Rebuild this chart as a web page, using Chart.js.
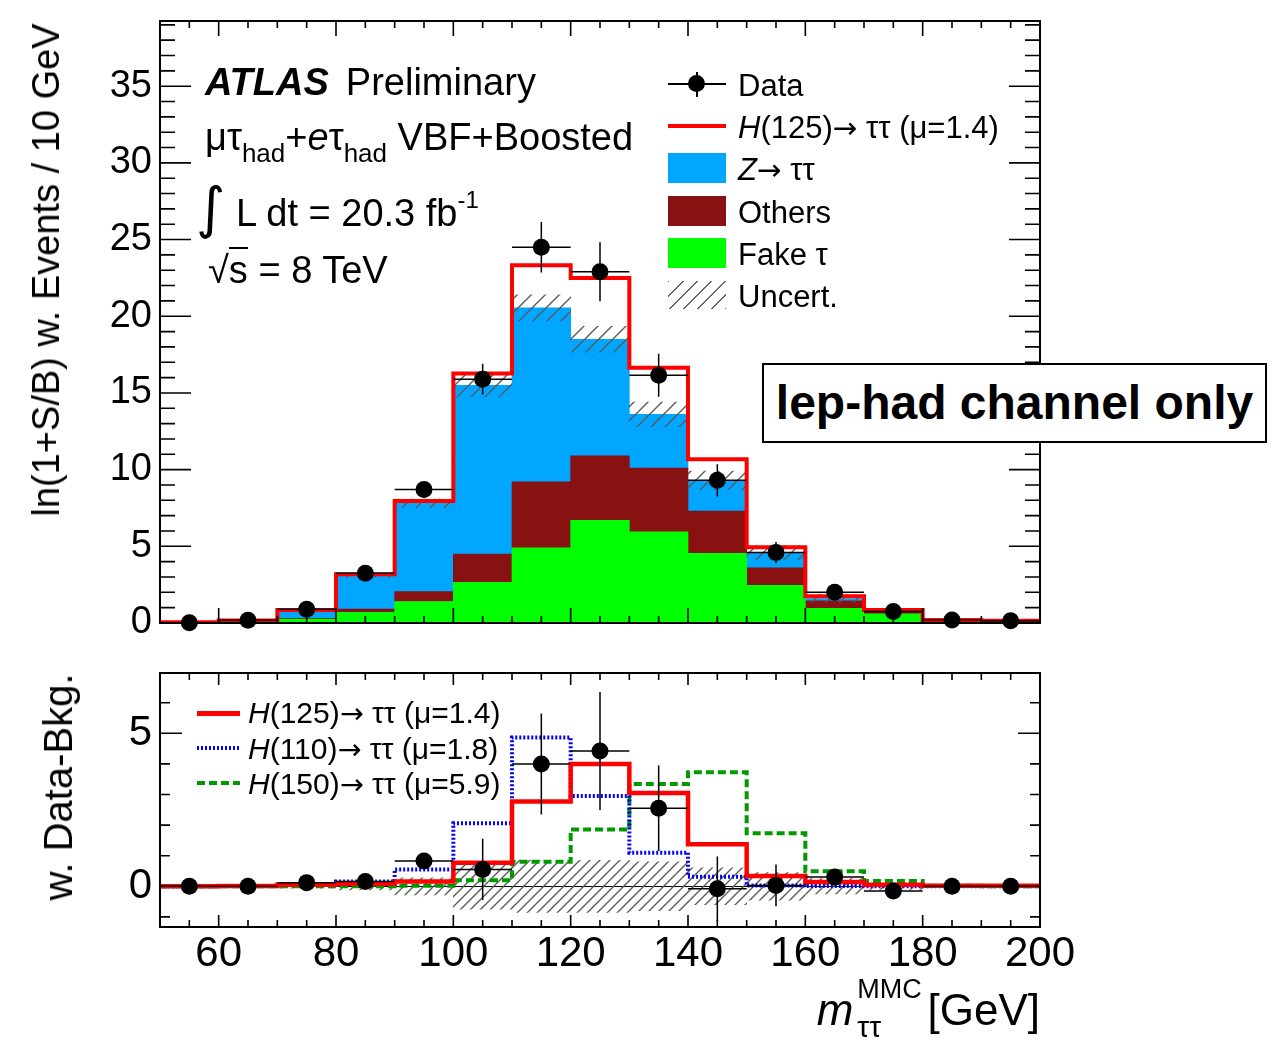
<!DOCTYPE html>
<html>
<head>
<meta charset="utf-8">
<title>m_tautau MMC, lep-had</title>
<script src="https://cdn.jsdelivr.net/npm/chart.js@4.4.1/dist/chart.umd.min.js"></script>
<style>
  body { margin: 0; background: #fff; }
  #page { position: relative; width: 1278px; height: 1041px; overflow: hidden; background: #fff; }
  canvas { position: absolute; left: 0; }
  .t { position: absolute; white-space: nowrap; line-height: 1; color: #000; font-family: "Liberation Sans", Arial, sans-serif; }
  .sym { position: absolute; }
  .hatch { background: repeating-linear-gradient(135deg, #666 0 1.4px, transparent 1.4px 10px); }
  .sub { font-size: 26px; vertical-align: -12px; }
  .ar { font-family: "DejaVu Sans", sans-serif; font-size: 0.95em; }
</style>
</head>
<body>
<div id="page">
  <canvas id="top" width="1278" height="650" style="top:0"></canvas>
  <canvas id="bottom" width="1278" height="391" style="top:650px"></canvas>

  <!-- labels, upper pad -->
  <div class="t" style="left:205px;top:63px;font-size:38px"><b><i>ATLAS</i></b><span style="margin-left:17px">Preliminary</span></div>
  <div class="t" style="left:205px;top:118px;font-size:38px">μτ<span class="sub">had</span>+<i>e</i>τ<span class="sub">had</span> VBF+Boosted</div>
  <div class="t" style="left:196px;top:180px;font-size:56px;font-family:'DejaVu Sans'">∫</div>
  <div class="t" style="left:236px;top:188px;font-size:38px">L dt = 20.3 fb<span style="font-size:24px;vertical-align:18px">-1</span></div>
  <div class="t" style="left:208px;top:251px;font-size:38px">√<span style="border-top:2px solid #000">s</span> = 8 TeV</div>

  <!-- legend, upper pad -->
  <div class="sym" style="left:668px;top:83px;width:58px;height:1.5px;background:#000"></div>
  <div class="sym" style="left:696px;top:72px;width:1.5px;height:25px;background:#000"></div>
  <div class="sym" style="left:688px;top:75px;width:17px;height:17px;border-radius:50%;background:#000"></div>
  <div class="sym" style="left:668px;top:124px;width:58px;height:4px;background:#ff0000"></div>
  <div class="sym" style="left:668px;top:153px;width:58px;height:30px;background:#00a6ff"></div>
  <div class="sym" style="left:668px;top:196px;width:58px;height:30px;background:#881111"></div>
  <div class="sym" style="left:668px;top:238px;width:58px;height:30px;background:#00ff00"></div>
  <div class="sym hatch" style="left:668px;top:281px;width:58px;height:28px"></div>
  <div class="t" style="left:738px;top:70px;font-size:31px">Data</div>
  <div class="t" style="left:738px;top:112px;font-size:31px"><i>H</i>(125)<span class="ar">→</span> ττ (μ=1.4)</div>
  <div class="t" style="left:738px;top:154px;font-size:31px"><i>Z</i><span class="ar">→</span> ττ</div>
  <div class="t" style="left:738px;top:197px;font-size:31px">Others</div>
  <div class="t" style="left:738px;top:239px;font-size:31px">Fake τ</div>
  <div class="t" style="left:738px;top:281px;font-size:31px">Uncert.</div>

  <div class="t" style="left:762px;top:363px;width:505px;height:80px;box-sizing:border-box;border:2px solid #000;background:#fff;font-size:48px;font-weight:bold;display:flex;align-items:center;justify-content:center">lep-had channel only</div>

  <!-- legend, lower pad -->
  <div class="sym" style="left:197px;top:711px;width:43px;height:4.5px;background:#ff0000"></div>
  <div class="sym" style="left:197px;top:746px;width:43px;height:4px;background:repeating-linear-gradient(90deg,#0000ff 0 2px,transparent 2px 4px)"></div>
  <div class="sym" style="left:197px;top:781px;width:43px;height:4px;background:repeating-linear-gradient(90deg,#009a00 0 8px,transparent 8px 12px)"></div>
  <div class="t" style="left:248px;top:698px;font-size:30px"><i>H</i>(125)<span class="ar">→</span> ττ (μ=1.4)</div>
  <div class="t" style="left:248px;top:734px;font-size:30px"><i>H</i>(110)<span class="ar">→</span> ττ (μ=1.8)</div>
  <div class="t" style="left:248px;top:769px;font-size:30px"><i>H</i>(150)<span class="ar">→</span> ττ (μ=5.9)</div>

  <!-- axis titles -->
  <div class="t" style="left:46px;top:270px;font-size:38px;transform:translate(-50%,-50%) rotate(-90deg)">ln(1+S/B) w. Events / 10 GeV</div>
  <div class="t" style="left:58px;top:787px;font-size:40px;transform:translate(-50%,-50%) rotate(-90deg)">w. Data-Bkg.</div>
  <div class="t" style="right:238px;top:988px;font-size:44px"><i>m</i><span style="display:inline-block;position:relative;width:62px;height:1px"><span class="t" style="left:4px;bottom:22px;font-size:27px">MMC</span><span class="t" style="left:4px;bottom:-17px;font-size:30px">ττ</span></span> [GeV]</div>
</div>

<script>
// bins of m_tautau^MMC [GeV]
const binEdges   = [50, 60, 70, 80, 90, 100, 110, 120, 130, 140, 150, 160, 170, 180, 190, 200];
const binCenters = [55, 65, 75, 85, 95, 105, 115, 125, 135, 145, 155, 165, 175, 185, 195];

// upper pad: ln(1+S/B) weighted events / 10 GeV
const fakeTau = [0.02, 0.05, 0.25, 0.7, 1.4, 2.65, 4.9, 6.7, 5.95, 4.55, 2.45, 0.95, 0.6, 0.1, 0.05];
const others  = [0.01, 0.03, 0.05, 0.2, 0.65, 1.85, 4.3, 4.2, 4.15, 2.75, 1.15, 0.5, 0.15, 0.02, 0.02];
const zTauTau = [0.02, 0.07, 0.5, 2.2, 5.75, 11.0, 11.35, 7.6, 3.5, 2.0, 1.0, 0.15, 0.05, 0.06, 0.06];
const bkgUnc  = [0.02, 0.03, 0.06, 0.12, 0.28, 0.75, 0.85, 0.85, 0.8, 0.6, 0.45, 0.25, 0.1, 0.04, 0.03];
const dataW   = [0.02, 0.18, 0.9, 3.25, 8.7, 15.9, 24.5, 22.9, 16.15, 9.3, 4.6, 2.0, 0.75, 0.2, 0.15];
const dataErr = [0.05, 0.1, 0.15, 0.2, 0.25, 1.0, 1.65, 1.93, 1.4, 1.05, 0.68, 0.25, 0.15, 0.05, 0.05];

// signal hypotheses (weighted), lower pad
const sigH125 = [0.0, 0.01, 0.05, 0.08, 0.16, 0.77, 2.77, 4.0, 3.05, 1.37, 0.34, 0.14, 0.05, 0.02, 0.02];
const sigH110 = [0.0, 0.01, 0.05, 0.16, 0.55, 2.06, 4.86, 2.95, 1.1, 0.31, 0.03, 0.01, 0.0, 0.0, 0.0];
const sigH150 = [0.0, 0.0, 0.0, 0.0, 0.02, 0.2, 0.8, 1.86, 3.34, 3.73, 1.73, 0.49, 0.17, 0.02, 0.0];
const dataMinusBkg = [0.0, 0.0, 0.12, 0.16, 0.83, 0.55, 4.0, 4.42, 2.55, -0.08, 0.03, 0.3, -0.15, 0.0, 0.0];

// tick labels
const xTickValues      = [60, 80, 100, 120, 140, 160, 180, 200];
const yTickValuesTop   = [0, 5, 10, 15, 20, 25, 30, 35];
const yTickValuesRatio = [0, 5];

const FAMILY = '"Liberation Sans", Arial, sans-serif';

const bkgTotal = binCenters.map((_, i) => fakeTau[i] + others[i] + zTauTau[i]);
const sigTop = bkgTotal.map((b, i) => b + sigH125[i]);

function pts(vals) {
    return binCenters.map((x, i) => ({ x: x, y: vals[i] }));
}
// histogram outline: one point per bin edge, last bin repeated
function steps(vals) {
    return binEdges.map((e, i) => ({ x: e, y: vals[Math.min(i, vals.length - 1)] }));
}

function hatch(size) {
    const c = document.createElement('canvas');
    c.width = size; c.height = size;
    const g = c.getContext('2d');
    g.strokeStyle = '#5a5a5a';
    g.lineWidth = 1.4;
    g.beginPath();
    g.moveTo(0, size); g.lineTo(size, 0);
    g.moveTo(-2, 2); g.lineTo(2, -2);
    g.moveTo(size - 2, size + 2); g.lineTo(size + 2, size - 2);
    g.stroke();
    return g.createPattern(c, 'repeat');
}

// ROOT-like frame with inward ticks on all four sides
const rootFrame = {
    id: 'rootFrame',
    beforeDatasetsDraw(chart, args, o) {
        if (!o.zeroLine) return;
        const { ctx, chartArea: a, scales: { y } } = chart;
        const py = Math.round(y.getPixelForValue(0)) + 0.5;
        ctx.save();
        ctx.strokeStyle = '#000';
        ctx.lineWidth = 1;
        ctx.beginPath(); ctx.moveTo(a.left, py); ctx.lineTo(a.right, py); ctx.stroke();
        ctx.restore();
    },
    afterDraw(chart, args, o) {
        const { ctx, chartArea: a, scales: { x, y } } = chart;
        ctx.save();
        ctx.strokeStyle = '#000';
        ctx.lineWidth = 1.6;
        ctx.beginPath();
        for (let v = Math.ceil(x.min / o.xMinor) * o.xMinor; v <= x.max; v += o.xMinor) {
            const px = x.getPixelForValue(v);
            const len = v % o.xMajor === 0 ? o.xLen[0] : o.xLen[1];
            ctx.moveTo(px, a.bottom); ctx.lineTo(px, a.bottom - len);
            ctx.moveTo(px, a.top); ctx.lineTo(px, a.top + len);
        }
        for (let v = Math.ceil(y.min / o.yMinor) * o.yMinor; v <= y.max; v += o.yMinor) {
            const py = y.getPixelForValue(v);
            const len = v % o.yMajor === 0 ? o.yLen[0] : o.yLen[1];
            ctx.moveTo(a.left, py); ctx.lineTo(a.left + len, py);
            ctx.moveTo(a.right, py); ctx.lineTo(a.right - len, py);
        }
        ctx.stroke();
        ctx.lineWidth = 2;
        ctx.strokeRect(a.left, a.top, a.width, a.height);
        ctx.restore();
    }
};

// data error bars: bin width horizontally, errY vertically
const errorBars = {
    id: 'errorBars',
    beforeDatasetDraw(chart, args) {
        const ds = chart.data.datasets[args.index];
        if (!ds.errY) return;
        const { ctx, scales: { x, y } } = chart;
        ctx.save();
        ctx.strokeStyle = '#000';
        ctx.lineWidth = 1.5;
        ctx.beginPath();
        ds.data.forEach((p, i) => {
            const px = x.getPixelForValue(p.x);
            const py = y.getPixelForValue(p.y);
            ctx.moveTo(x.getPixelForValue(binEdges[i]), py);
            ctx.lineTo(x.getPixelForValue(binEdges[i + 1]), py);
            ctx.moveTo(px, y.getPixelForValue(p.y - ds.errY[i]));
            ctx.lineTo(px, y.getPixelForValue(p.y + ds.errY[i]));
        });
        ctx.stroke();
        ctx.restore();
    }
};

function xScale(showLabels, height) {
    return {
        type: 'linear', min: 50, max: 200, offset: false,
        afterBuildTicks: s => { s.ticks = xTickValues.map(v => ({ value: v })); },
        afterFit: s => { s.height = height; s.paddingLeft = 0; s.paddingRight = 0; },
        grid: { display: false, drawTicks: false, offset: false },
        border: { display: false },
        ticks: { display: showLabels, color: '#000', font: { family: FAMILY, size: 42 }, padding: 2, maxRotation: 0 }
    };
}
function yScale(min, max, tickValues, size, stacked) {
    return {
        type: 'linear', min: min, max: max, stacked: stacked,
        afterBuildTicks: s => { s.ticks = tickValues.map(v => ({ value: v })); },
        afterFit: s => { s.width = 160; s.paddingTop = 0; s.paddingBottom = 0; },
        grid: { display: false, drawTicks: false },
        border: { display: false },
        ticks: { color: '#000', font: { family: FAMILY, size: size }, padding: 8 }
    };
}

const barOpts = { grouped: false, barPercentage: 1, categoryPercentage: 1, borderWidth: 0 };

new Chart(document.getElementById('top'), {
    type: 'bar',
    data: {
        datasets: [
            Object.assign({ label: 'Fake τ', data: pts(fakeTau), backgroundColor: '#00ff00', stack: 'bkg', order: 3 }, barOpts),
            Object.assign({ label: 'Others', data: pts(others), backgroundColor: '#881111', stack: 'bkg', order: 3 }, barOpts),
            Object.assign({ label: 'Z→ττ', data: pts(zTauTau), backgroundColor: '#00a6ff', stack: 'bkg', order: 3 }, barOpts),
            Object.assign({ label: 'Uncert.', data: binCenters.map((x, i) => ({ x: x, y: [bkgTotal[i] - bkgUnc[i], bkgTotal[i] + bkgUnc[i]] })),
                backgroundColor: hatch(14), stack: 'unc', order: 2 }, barOpts),
            { type: 'line', label: 'H(125)→ττ (μ=1.4)', data: steps(sigTop), borderColor: '#ff0000', borderWidth: 4,
              stepped: 'before', pointRadius: 0, fill: false, stack: 'sig', order: 1 },
            { type: 'scatter', label: 'Data', data: pts(dataW), errY: dataErr, backgroundColor: '#000', borderWidth: 0,
              pointRadius: 8.5, stack: 'data', order: 0, clip: false }
        ]
    },
    options: {
        responsive: false, animation: false, events: [],
        layout: { padding: { top: 21, right: 238, bottom: 0, left: 0 } },
        plugins: {
            legend: { display: false }, tooltip: { enabled: false },
            rootFrame: { xMinor: 5, xMajor: 20, yMinor: 1, yMajor: 5, xLen: [15, 7], yLen: [31, 15] }
        },
        scales: { x: xScale(false, 27), y: yScale(0, 39.25, yTickValuesTop, 38, true) }
    },
    plugins: [rootFrame, errorBars]
});

new Chart(document.getElementById('bottom'), {
    type: 'bar',
    data: {
        datasets: [
            Object.assign({ label: 'Uncert.', data: binCenters.map((x, i) => ({ x: x, y: [-bkgUnc[i], bkgUnc[i]] })),
                backgroundColor: hatch(10), order: 4 }, barOpts),
            { type: 'line', label: 'H(150)→ττ (μ=5.9)', data: steps(sigH150), borderColor: '#009a00', borderWidth: 4,
              borderDash: [8, 4], stepped: 'before', pointRadius: 0, fill: false, order: 3 },
            { type: 'line', label: 'H(110)→ττ (μ=1.8)', data: steps(sigH110), borderColor: '#0000ff', borderWidth: 4,
              borderDash: [2, 2], stepped: 'before', pointRadius: 0, fill: false, order: 2 },
            { type: 'line', label: 'H(125)→ττ (μ=1.4)', data: steps(sigH125), borderColor: '#ff0000', borderWidth: 4.5,
              stepped: 'before', pointRadius: 0, fill: false, order: 1 },
            { type: 'scatter', label: 'Data-Bkg', data: pts(dataMinusBkg), errY: dataErr, backgroundColor: '#000', borderWidth: 0,
              pointRadius: 8.5, order: 0, clip: false }
        ]
    },
    options: {
        responsive: false, animation: false, events: [],
        layout: { padding: { top: 23, right: 238, bottom: 0, left: 0 } },
        plugins: {
            legend: { display: false }, tooltip: { enabled: false },
            rootFrame: { xMinor: 5, xMajor: 20, yMinor: 1, yMajor: 5, xLen: [12, 7], yLen: [22, 10], zeroLine: true }
        },
        scales: { x: xScale(true, 114), y: yScale(-1.33, 6.97, yTickValuesRatio, 42, false) }
    },
    plugins: [rootFrame, errorBars]
});
</script>
</body>
</html>
